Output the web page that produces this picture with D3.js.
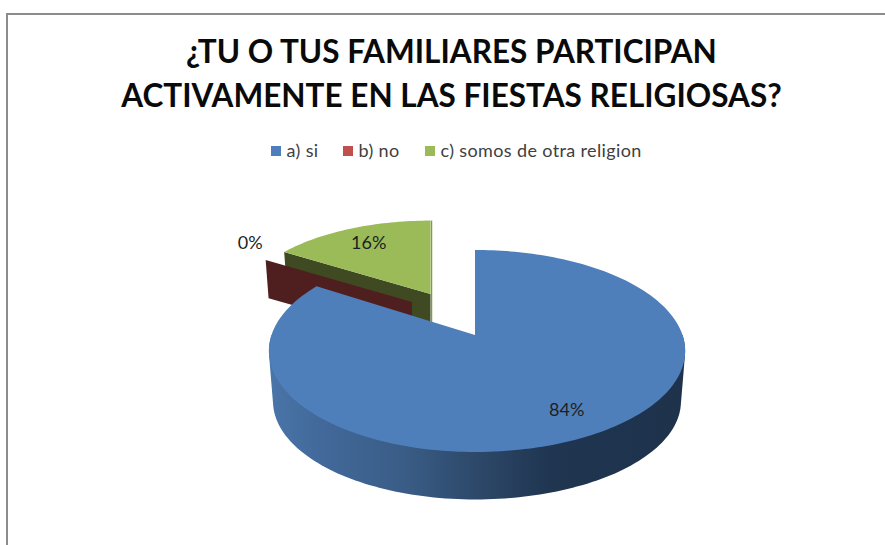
<!DOCTYPE html>
<meta charset="utf-8">
<style>
body { margin: 0; background: White; overflow: hidden; }
text { font-family: Lato, "Open Sans", sans-serif; }
</style>
<body>
<script src="https://d3js.org/d3.v7.min.js"></script>
<script>

// values
var categories = ["a) si", "b) no", "c) somos de otra religion"];
var percents = [84, 0, 16];
var titleLines = ["¿TU O TUS FAMILIARES PARTICIPAN", "ACTIVAMENTE EN LAS FIESTAS RELIGIOSAS?"];

// colours of the top face, the cut walls
var topColors = ["#4f7fbb", "#c0504d", "#9bbb59"];
var wallColors = ["#1f3550", "#4f1f1f", "#3f4a22"];

var width = 885, height = 545;

// each slice is pulled out on its own, and the ones behind sit further from the viewer
var sliceLayout = [
  {ax: 475, ay: 335, bl: 203.5, br: 207.5, a: 98.5, depth: 51, labelR: 0.79, dx: 3, dy: -2},
  {ax: 412, ay: 302, bl: 188, br: 188, a: 85, depth: 37, labelR: 1.115, dx: 0, dy: -13},
  {ax: 430.5, ay: 294, bl: 188, br: 188, a: 85, depth: 37, labelR: 0.74, dx: -1, dy: -1}
];
var persp = 0.158;

var svg = d3.select("body").append("svg")
    .attr("width", width)
    .attr("height", height)
    .style("display", "block");

// chart frame, its right and bottom sides are cut off by the picture
svg.append("path")
    .attr("d", d3.line()([[7, height + 2], [7, 14], [width + 2, 14]]))
    .attr("fill", "none")
    .attr("stroke", "#8c8c8c")
    .attr("stroke-width", 2);

// title
svg.selectAll(".title")
    .data(titleLines)
  .enter().append("text")
    .attr("class", "title")
    .attr("x", 451.5)
    .attr("y", function(d, i) { return 63 + i * 44; })
    .attr("text-anchor", "middle")
    .style("font-size", "31.5px")
    .style("font-weight", "bold")
    .style("fill", "#0a0a0a")
    .text(function(d) { return d; });

// legend
var legendX = [271, 343, 425];
var legend = svg.selectAll(".legend")
    .data(categories)
  .enter().append("g")
    .attr("class", "legend")
    .attr("transform", function(d, i) { return "translate(" + legendX[i] + ",146)"; });
legend.append("rect")
    .attr("width", 10)
    .attr("height", 10)
    .attr("fill", function(d, i) { return topColors[i]; });
legend.append("text")
    .attr("x", 15.5)
    .attr("y", 11)
    .style("font-size", "18px")
    .style("letter-spacing", "0.37px")
    .style("fill", "#404040")
    .text(function(d) { return d; });

// gradient on the outer side of the big slice
var grad = svg.append("defs").append("linearGradient")
    .attr("id", "side")
    .attr("gradientUnits", "userSpaceOnUse")
    .attr("x1", 270).attr("x2", 685).attr("y1", 0).attr("y2", 0);
[[0, "#4a75a8"], [0.12, "#42699a"], [0.32, "#3a5d87"], [0.5, "#2d4869"], [0.68, "#1f3550"], [1, "#1e324c"]]
  .forEach(function(s) {
    grad.append("stop").attr("offset", s[0]).attr("stop-color", s[1]);
  });

var pie = d3.pie().sort(null).value(function(d) { return d; });
var arcs = pie(percents);
var line = d3.line();

// pie plane to screen, r is 0..1 and bottom says top or lower face
function project(s, angle, r, bottom) {
  var u = Math.sin(angle) * r,
      v = -Math.cos(angle) * r,
      w = 1 - persp * v,
      b = u < 0 ? s.bl : s.br;
  if (bottom) {
    return [s.ax + 0.98 * b * u / w, s.ay + 0.97 * s.a * v / w + s.depth];
  }
  return [s.ax + b * u / w, s.ay + s.a * v / w];
}

function rim(s, d, bottom) {
  var n = Math.max(1, Math.ceil((d.endAngle - d.startAngle) * 40));
  return d3.range(n + 1).map(function(i) {
    return project(s, d.startAngle + (d.endAngle - d.startAngle) * i / n, 1, bottom);
  });
}

// back to front, the blue slice covers the others
[2, 1, 0].forEach(function(i) {
  var d = arcs[i], s = sliceLayout[i];
  var g = svg.append("g");

  // the edge on wall at angle zero
  if (i == 0) {
    g.append("path")
      .attr("d", line([project(s, 0, 1, false), project(s, 0, 0, false)]))
      .attr("transform", "translate(1,0)")
      .attr("fill", "none")
      .attr("stroke", wallColors[0])
      .attr("stroke-width", 1.5);
  }
  if (i == 2) {
    g.append("path")
      .attr("d", line([project(s, 0, 1, false), project(s, 0, 0, false), project(s, 0, 0, true)]))
      .attr("transform", "translate(1,0)")
      .attr("fill", "none")
      .attr("stroke", "#7f9a48")
      .attr("stroke-width", 1.5);
  }

  // wall of the cut that faces the viewer
  if (i > 0) {
    g.append("path")
      .attr("d", line([
        project(s, d.startAngle, 0, false),
        project(s, d.startAngle, 1, false),
        project(s, d.startAngle, 1, true),
        project(s, d.startAngle, 0, true)
      ]) + "Z")
      .attr("fill", wallColors[i]);
  }

  // outer side, only the big slice shows it: hull of the front half of both rims
  if (i == 0) {
    var front = {startAngle: Math.PI / 2, endAngle: Math.PI * 3 / 2};
    g.append("path")
      .attr("d", line(d3.polygonHull(rim(s, front, false).concat(rim(s, front, true)))) + "Z")
      .attr("fill", "url(#side)");
  }

  // top face
  if (d.endAngle > d.startAngle) {
    g.append("path")
      .attr("d", line([project(s, d.startAngle, 0, false)].concat(rim(s, d, false))) + "Z")
      .attr("fill", topColors[i]);
  }
});

// percent labels go on top of everything
svg.selectAll(".label")
    .data(arcs)
  .enter().append("text")
    .attr("class", "label")
    .attr("transform", function(d, i) {
      var s = sliceLayout[i];
      var p = project(s, (d.startAngle + d.endAngle) / 2, s.labelR, false);
      return "translate(" + (p[0] + s.dx) + "," + (p[1] + s.dy) + ")";
    })
    .attr("dy", "0.35em")
    .attr("text-anchor", "middle")
    .style("font-size", "18px")
    .style("fill", "#1f1f1f")
    .text(function(d) { return d.data + "%"; });

</script>
</body>
